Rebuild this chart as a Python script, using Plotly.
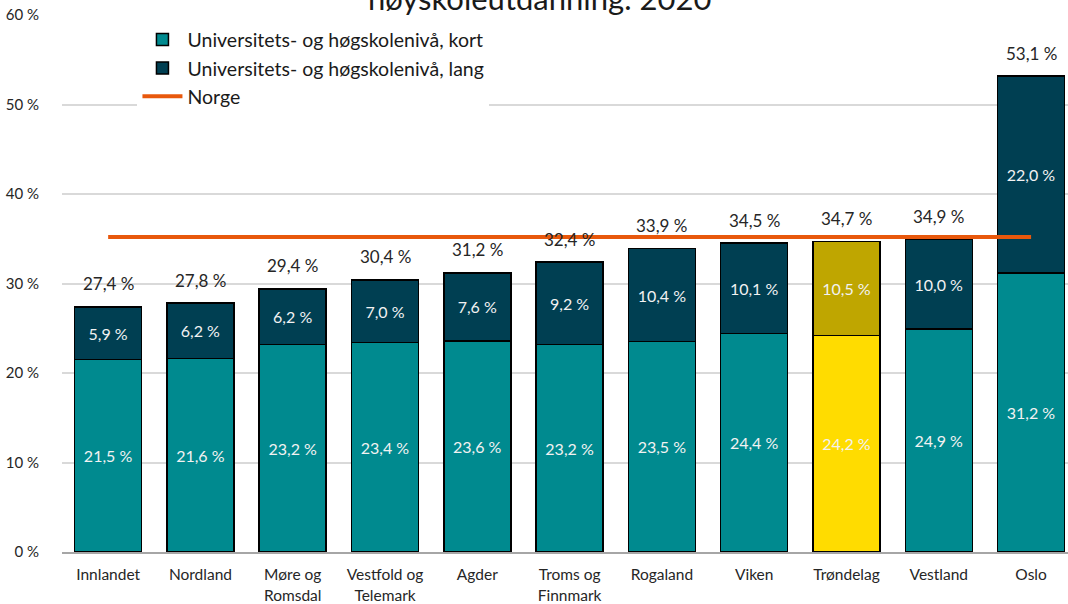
import plotly.graph_objects as go

categories = ["Innlandet", "Nordland", "Møre og<br>Romsdal", "Vestfold og<br>Telemark", "Agder",
              "Troms og<br>Finnmark", "Rogaland", "Viken", "Trøndelag", "Vestland", "Oslo"]
kort = [21.5, 21.6, 23.2, 23.4, 23.6, 23.2, 23.5, 24.4, 24.2, 24.9, 31.2]
lang = [5.9, 6.2, 6.2, 7.0, 7.6, 9.2, 10.4, 10.1, 10.5, 10.0, 22.0]
totals = [27.4, 27.8, 29.4, 30.4, 31.2, 32.4, 33.9, 34.5, 34.7, 34.9, 53.1]
norge = [35.2] * len(categories)
highlight = "Trøndelag"

FONT = "Lato, Carlito, Calibri, sans-serif"
TEAL, DARK = "#008A8F", "#003F52"
YEL, OLIVE = "#FFDC00", "#BFA600"
ORANGE = "#E8580C"

kort_colors = [YEL if c == highlight else TEAL for c in categories]
lang_colors = [OLIVE if c == highlight else DARK for c in categories]

fig = go.Figure()
fig.add_trace(go.Bar(
    x=categories, y=kort, name="Universitets- og høgskolenivå, kort",
    marker=dict(color=kort_colors, line=dict(color="black", width=1.5)),
    texttemplate="%{y:.1f} %", textposition="inside", insidetextanchor="middle",
    textangle=0, textfont=dict(color="#F2F2F2", size=16, family=FONT),
))
fig.add_trace(go.Bar(
    x=categories, y=lang, name="Universitets- og høgskolenivå, lang",
    marker=dict(color=lang_colors, line=dict(color="black", width=1.5)),
    texttemplate="%{y:.1f} %", textposition="inside", insidetextanchor="middle",
    textangle=0, textfont=dict(color="#F2F2F2", size=16, family=FONT),
))
fig.add_trace(go.Scatter(
    x=categories, y=norge, name="Norge", mode="lines",
    line=dict(color=ORANGE, width=4),
))

for c, t in zip(categories, totals):
    fig.add_annotation(x=c, y=t, text=f"{t:.1f} %".replace(".", ","), showarrow=False,
                       yshift=23, font=dict(size=17, color="#262626", family=FONT))

fig.add_annotation(xref="paper", yref="paper", x=0.475, y=1, yanchor="bottom", yshift=-4,
                   text="høyskoleutdanning. 2020", showarrow=False,
                   font=dict(size=31, color="#1a1a1a", family=FONT))

fig.update_layout(
    width=1068, height=604,
    margin=dict(l=62, r=0, t=15, b=52),
    barmode="stack", bargap=0.274,
    separators=", ",
    plot_bgcolor="white", paper_bgcolor="white",
    font=dict(family=FONT, color="#262626"),
    showlegend=True,
    legend=dict(x=0.075, y=0.99, xanchor="left", yanchor="top", traceorder="normal",
                bgcolor="white", font=dict(size=19.5, color="#1a1a1a", family=FONT),
                tracegroupgap=0, itemwidth=40),
    xaxis=dict(range=[-0.5, 10.4], showline=True, linecolor="#A6A6A6", linewidth=1.5,
               ticks="", tickfont=dict(size=15.5, family=FONT, color="#262626"),
               ticklabelstandoff=8),
    yaxis=dict(range=[0, 60], dtick=10, ticksuffix=" %", gridcolor="#D9D9D9", gridwidth=1.5,
               zeroline=False, showline=False, ticks="",
               tickfont=dict(size=15, family=FONT, color="#262626"), ticklabelstandoff=22),
)

fig.write_html("out.html", config={"displayModeBar": False},
               post_script="document.body.style.margin='0';")
